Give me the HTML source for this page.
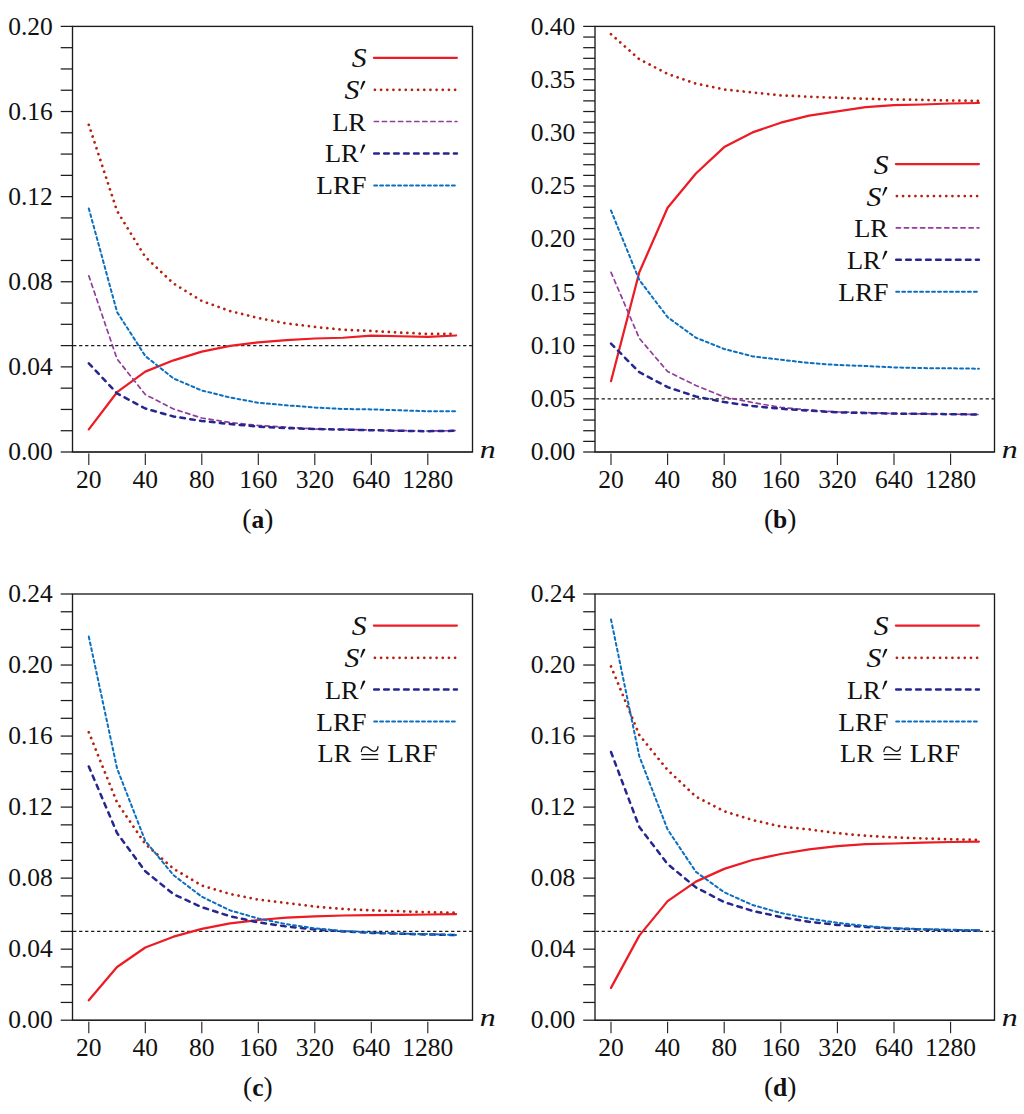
<!DOCTYPE html>
<html><head><meta charset="utf-8"><style>
html,body{margin:0;padding:0;background:#fff;}
body{width:1024px;height:1114px;overflow:hidden;}
svg{display:block;}
text{font-family:"Liberation Serif",serif;fill:#111;}
.rm{font-size:25.5px;}
.it{font-size:25.5px;font-style:italic;}
.bf{font-size:25.5px;font-weight:bold;}
.itS{font-size:27px;font-style:italic;}
</style></head><body>
<svg width="1024" height="1114" viewBox="0 0 1024 1114">
<rect width="1024" height="1114" fill="#fff"/>
<line x1="73.1" y1="345.6" x2="471.9" y2="345.6" stroke="#1a1a1a" stroke-width="1.25" stroke-dasharray="3.3 2.7"/>
<polyline points="88.8,429.4 117.05,392.2 145.3,371.6 173.55,360.3 201.8,351.7 230.05,345.9 258.3,342.3 286.55,340.2 314.8,338.5 343.05,337.75 371.3,335.7 399.55,336.25 427.8,336.8 456.05,335.5" fill="none" stroke="#ec1b24" stroke-width="2.25" stroke-linecap="round" stroke-linejoin="round"/>
<polyline points="88.8,124.8 117.05,211 145.3,257 173.55,283.5 201.8,301 230.05,311 258.3,318 286.55,323.5 314.8,326.9 343.05,329.7 371.3,331 399.55,332.5 427.8,334 456.05,333.8" fill="none" stroke="#b5200f" stroke-width="2.75" stroke-linecap="round" stroke-linejoin="round" stroke-dasharray="0.01 6.16"/>
<polyline points="88.8,275.8 117.05,359 145.3,394.5 173.55,409 201.8,418 230.05,422.5 258.3,425.5 286.55,427.2 314.8,429 343.05,429.4 371.3,430 399.55,430.6 427.8,431 456.05,430.6" fill="none" stroke="#923d9c" stroke-width="1.7" stroke-linecap="round" stroke-linejoin="round" stroke-dasharray="4.2 3.88"/>
<polyline points="88.8,363.3 117.05,393.4 145.3,408.5 173.55,416.5 201.8,421 230.05,424 258.3,426.6 286.55,428.1 314.8,429 343.05,429.6 371.3,430.2 399.55,430.8 427.8,431.2 456.05,430.8" fill="none" stroke="#25268f" stroke-width="2.5" stroke-linecap="round" stroke-linejoin="round" stroke-dasharray="4.6 5.36"/>
<polyline points="88.8,208.4 117.05,312 145.3,356 173.55,378.5 201.8,390.5 230.05,397.5 258.3,402.8 286.55,405.3 314.8,407.5 343.05,409 371.3,409.4 399.55,410.3 427.8,411.25 456.05,411.25" fill="none" stroke="#0b6fbf" stroke-width="2.0" stroke-linecap="round" stroke-linejoin="round" stroke-dasharray="2.9 3.08"/>
<rect x="72.5" y="26.4" width="400" height="425.6" fill="none" stroke="#1c1c1c" stroke-width="1.35"/>
<line x1="72.5" y1="452" x2="472.5" y2="452" stroke="#1c1c1c" stroke-width="1.1"/>
<line x1="60.7" y1="452" x2="72.5" y2="452" stroke="#1c1c1c" stroke-width="1.25"/>
<line x1="60.7" y1="430.72" x2="72.5" y2="430.72" stroke="#1c1c1c" stroke-width="1.25"/>
<line x1="60.7" y1="409.44" x2="72.5" y2="409.44" stroke="#1c1c1c" stroke-width="1.25"/>
<line x1="60.7" y1="388.16" x2="72.5" y2="388.16" stroke="#1c1c1c" stroke-width="1.25"/>
<line x1="60.7" y1="366.88" x2="72.5" y2="366.88" stroke="#1c1c1c" stroke-width="1.25"/>
<line x1="60.7" y1="345.6" x2="72.5" y2="345.6" stroke="#1c1c1c" stroke-width="1.25"/>
<line x1="60.7" y1="324.32" x2="72.5" y2="324.32" stroke="#1c1c1c" stroke-width="1.25"/>
<line x1="60.7" y1="303.04" x2="72.5" y2="303.04" stroke="#1c1c1c" stroke-width="1.25"/>
<line x1="60.7" y1="281.76" x2="72.5" y2="281.76" stroke="#1c1c1c" stroke-width="1.25"/>
<line x1="60.7" y1="260.48" x2="72.5" y2="260.48" stroke="#1c1c1c" stroke-width="1.25"/>
<line x1="60.7" y1="239.2" x2="72.5" y2="239.2" stroke="#1c1c1c" stroke-width="1.25"/>
<line x1="60.7" y1="217.92" x2="72.5" y2="217.92" stroke="#1c1c1c" stroke-width="1.25"/>
<line x1="60.7" y1="196.64" x2="72.5" y2="196.64" stroke="#1c1c1c" stroke-width="1.25"/>
<line x1="60.7" y1="175.36" x2="72.5" y2="175.36" stroke="#1c1c1c" stroke-width="1.25"/>
<line x1="60.7" y1="154.08" x2="72.5" y2="154.08" stroke="#1c1c1c" stroke-width="1.25"/>
<line x1="60.7" y1="132.8" x2="72.5" y2="132.8" stroke="#1c1c1c" stroke-width="1.25"/>
<line x1="60.7" y1="111.52" x2="72.5" y2="111.52" stroke="#1c1c1c" stroke-width="1.25"/>
<line x1="60.7" y1="90.24" x2="72.5" y2="90.24" stroke="#1c1c1c" stroke-width="1.25"/>
<line x1="60.7" y1="68.96" x2="72.5" y2="68.96" stroke="#1c1c1c" stroke-width="1.25"/>
<line x1="60.7" y1="47.68" x2="72.5" y2="47.68" stroke="#1c1c1c" stroke-width="1.25"/>
<line x1="60.7" y1="26.4" x2="72.5" y2="26.4" stroke="#1c1c1c" stroke-width="1.25"/>
<text x="52.8" y="460.2" text-anchor="end" class="rm">0.00</text>
<text x="52.8" y="375.08" text-anchor="end" class="rm">0.04</text>
<text x="52.8" y="289.96" text-anchor="end" class="rm">0.08</text>
<text x="52.8" y="204.84" text-anchor="end" class="rm">0.12</text>
<text x="52.8" y="119.72" text-anchor="end" class="rm">0.16</text>
<text x="52.8" y="34.6" text-anchor="end" class="rm">0.20</text>
<line x1="88.8" y1="453.5" x2="88.8" y2="465" stroke="#1c1c1c" stroke-width="1.1"/>
<text x="88.8" y="488" text-anchor="middle" class="rm">20</text>
<line x1="145.3" y1="453.5" x2="145.3" y2="465" stroke="#1c1c1c" stroke-width="1.1"/>
<text x="145.3" y="488" text-anchor="middle" class="rm">40</text>
<line x1="201.8" y1="453.5" x2="201.8" y2="465" stroke="#1c1c1c" stroke-width="1.1"/>
<text x="201.8" y="488" text-anchor="middle" class="rm">80</text>
<line x1="258.3" y1="453.5" x2="258.3" y2="465" stroke="#1c1c1c" stroke-width="1.1"/>
<text x="258.3" y="488" text-anchor="middle" class="rm">160</text>
<line x1="314.8" y1="453.5" x2="314.8" y2="465" stroke="#1c1c1c" stroke-width="1.1"/>
<text x="314.8" y="488" text-anchor="middle" class="rm">320</text>
<line x1="371.3" y1="453.5" x2="371.3" y2="465" stroke="#1c1c1c" stroke-width="1.1"/>
<text x="371.3" y="488" text-anchor="middle" class="rm">640</text>
<line x1="427.8" y1="453.5" x2="427.8" y2="465" stroke="#1c1c1c" stroke-width="1.1"/>
<text x="427.8" y="488" text-anchor="middle" class="rm">1280</text>
<text transform="translate(479.7 457.6) scale(1.25 1)" class="it">n</text>
<text x="242.37" y="527.8" class="rm" style="font-size:27.5px">(<tspan class="bf" style="font-size:25.5px">a</tspan>)</text>
<line x1="373.9" y1="57.75" x2="456.9" y2="57.75" stroke="#ec1b24" stroke-width="2.25" stroke-linecap="round"/>
<text transform="translate(366.5 67.35) scale(1.1 1)" text-anchor="end" class="itS">S</text>
<line x1="374.9" y1="89.8" x2="456.9" y2="89.8" stroke="#b5200f" stroke-width="2.75" stroke-linecap="round" stroke-dasharray="0.01 6.16"/>
<text transform="translate(359.3 99.4) scale(1.1 1)" text-anchor="end" class="itS">S</text><polygon points="362.7,81.5 363.5,80.9 364.6,80.8 365.3,81.3 365.2,82 361.4,89.4 360.6,89.6 360.3,89.1" fill="#111"/>
<line x1="374.3" y1="121.5" x2="456.9" y2="121.5" stroke="#923d9c" stroke-width="1.7" stroke-linecap="round" stroke-dasharray="4.2 3.88"/>
<text transform="translate(366 130.5) scale(1.038 1)" text-anchor="end" class="rm">LR</text>
<line x1="374.2" y1="153.4" x2="456.9" y2="153.4" stroke="#25268f" stroke-width="2.5" stroke-linecap="round" stroke-dasharray="4.6 5.36"/>
<text transform="translate(358.7 162.4) scale(1.038 1)" text-anchor="end" class="rm">LR</text><polygon points="362.7,145.1 363.5,144.5 364.6,144.4 365.3,144.9 365.2,145.6 361.4,153 360.6,153.2 360.3,152.7" fill="#111"/>
<line x1="374.2" y1="185.4" x2="456.9" y2="185.4" stroke="#0b6fbf" stroke-width="2.0" stroke-linecap="round" stroke-dasharray="2.9 3.08"/>
<text transform="translate(366.5 194.4) scale(1.075 1)" text-anchor="end" class="rm">LRF</text>
<line x1="595.6" y1="398.8" x2="993.9" y2="398.8" stroke="#1a1a1a" stroke-width="1.25" stroke-dasharray="3.3 2.7"/>
<polyline points="611,381.2 639.3,272.3 667.6,207.7 695.9,173.5 724.2,147.1 752.5,132.4 780.8,122.7 809.1,115.6 837.4,111.4 865.7,107.2 894,105.1 922.3,104.5 950.6,103.5 978.9,103" fill="none" stroke="#ec1b24" stroke-width="2.25" stroke-linecap="round" stroke-linejoin="round"/>
<polyline points="611,34.2 639.3,59.2 667.6,73.9 695.9,83.6 724.2,89.5 752.5,92.4 780.8,95.3 809.1,96.7 837.4,97.8 865.7,98.8 894,99.5 922.3,99.9 950.6,100.5 978.9,100.9" fill="none" stroke="#b5200f" stroke-width="2.75" stroke-linecap="round" stroke-linejoin="round" stroke-dasharray="0.01 6.16"/>
<polyline points="611,272.3 639.3,338.3 667.6,371.5 695.9,385.5 724.2,397 752.5,402.5 780.8,407.4 809.1,410 837.4,411.9 865.7,412.6 894,413.6 922.3,413.8 950.6,414.2 978.9,414.5" fill="none" stroke="#923d9c" stroke-width="1.7" stroke-linecap="round" stroke-linejoin="round" stroke-dasharray="4.2 3.88"/>
<polyline points="611,343.6 639.3,372.2 667.6,387.1 695.9,396.5 724.2,402.1 752.5,406 780.8,408.75 809.1,410.7 837.4,412.3 865.7,413 894,413.6 922.3,413.8 950.6,414.2 978.9,414.5" fill="none" stroke="#25268f" stroke-width="2.5" stroke-linecap="round" stroke-linejoin="round" stroke-dasharray="4.6 5.36"/>
<polyline points="611,210.5 639.3,280 667.6,317.2 695.9,337.7 724.2,349 752.5,356.4 780.8,359.7 809.1,363 837.4,365 865.7,366 894,367.4 922.3,368.1 950.6,368.3 978.9,368.7" fill="none" stroke="#0b6fbf" stroke-width="2.0" stroke-linecap="round" stroke-linejoin="round" stroke-dasharray="2.9 3.08"/>
<rect x="595" y="26.4" width="399.5" height="425.6" fill="none" stroke="#1c1c1c" stroke-width="1.35"/>
<line x1="595" y1="452" x2="994.5" y2="452" stroke="#1c1c1c" stroke-width="1.1"/>
<line x1="583.2" y1="452" x2="595" y2="452" stroke="#1c1c1c" stroke-width="1.25"/>
<line x1="583.2" y1="441.36" x2="595" y2="441.36" stroke="#1c1c1c" stroke-width="1.25"/>
<line x1="583.2" y1="430.72" x2="595" y2="430.72" stroke="#1c1c1c" stroke-width="1.25"/>
<line x1="583.2" y1="420.08" x2="595" y2="420.08" stroke="#1c1c1c" stroke-width="1.25"/>
<line x1="583.2" y1="409.44" x2="595" y2="409.44" stroke="#1c1c1c" stroke-width="1.25"/>
<line x1="583.2" y1="398.8" x2="595" y2="398.8" stroke="#1c1c1c" stroke-width="1.25"/>
<line x1="583.2" y1="388.16" x2="595" y2="388.16" stroke="#1c1c1c" stroke-width="1.25"/>
<line x1="583.2" y1="377.52" x2="595" y2="377.52" stroke="#1c1c1c" stroke-width="1.25"/>
<line x1="583.2" y1="366.88" x2="595" y2="366.88" stroke="#1c1c1c" stroke-width="1.25"/>
<line x1="583.2" y1="356.24" x2="595" y2="356.24" stroke="#1c1c1c" stroke-width="1.25"/>
<line x1="583.2" y1="345.6" x2="595" y2="345.6" stroke="#1c1c1c" stroke-width="1.25"/>
<line x1="583.2" y1="334.96" x2="595" y2="334.96" stroke="#1c1c1c" stroke-width="1.25"/>
<line x1="583.2" y1="324.32" x2="595" y2="324.32" stroke="#1c1c1c" stroke-width="1.25"/>
<line x1="583.2" y1="313.68" x2="595" y2="313.68" stroke="#1c1c1c" stroke-width="1.25"/>
<line x1="583.2" y1="303.04" x2="595" y2="303.04" stroke="#1c1c1c" stroke-width="1.25"/>
<line x1="583.2" y1="292.4" x2="595" y2="292.4" stroke="#1c1c1c" stroke-width="1.25"/>
<line x1="583.2" y1="281.76" x2="595" y2="281.76" stroke="#1c1c1c" stroke-width="1.25"/>
<line x1="583.2" y1="271.12" x2="595" y2="271.12" stroke="#1c1c1c" stroke-width="1.25"/>
<line x1="583.2" y1="260.48" x2="595" y2="260.48" stroke="#1c1c1c" stroke-width="1.25"/>
<line x1="583.2" y1="249.84" x2="595" y2="249.84" stroke="#1c1c1c" stroke-width="1.25"/>
<line x1="583.2" y1="239.2" x2="595" y2="239.2" stroke="#1c1c1c" stroke-width="1.25"/>
<line x1="583.2" y1="228.56" x2="595" y2="228.56" stroke="#1c1c1c" stroke-width="1.25"/>
<line x1="583.2" y1="217.92" x2="595" y2="217.92" stroke="#1c1c1c" stroke-width="1.25"/>
<line x1="583.2" y1="207.28" x2="595" y2="207.28" stroke="#1c1c1c" stroke-width="1.25"/>
<line x1="583.2" y1="196.64" x2="595" y2="196.64" stroke="#1c1c1c" stroke-width="1.25"/>
<line x1="583.2" y1="186" x2="595" y2="186" stroke="#1c1c1c" stroke-width="1.25"/>
<line x1="583.2" y1="175.36" x2="595" y2="175.36" stroke="#1c1c1c" stroke-width="1.25"/>
<line x1="583.2" y1="164.72" x2="595" y2="164.72" stroke="#1c1c1c" stroke-width="1.25"/>
<line x1="583.2" y1="154.08" x2="595" y2="154.08" stroke="#1c1c1c" stroke-width="1.25"/>
<line x1="583.2" y1="143.44" x2="595" y2="143.44" stroke="#1c1c1c" stroke-width="1.25"/>
<line x1="583.2" y1="132.8" x2="595" y2="132.8" stroke="#1c1c1c" stroke-width="1.25"/>
<line x1="583.2" y1="122.16" x2="595" y2="122.16" stroke="#1c1c1c" stroke-width="1.25"/>
<line x1="583.2" y1="111.52" x2="595" y2="111.52" stroke="#1c1c1c" stroke-width="1.25"/>
<line x1="583.2" y1="100.88" x2="595" y2="100.88" stroke="#1c1c1c" stroke-width="1.25"/>
<line x1="583.2" y1="90.24" x2="595" y2="90.24" stroke="#1c1c1c" stroke-width="1.25"/>
<line x1="583.2" y1="79.6" x2="595" y2="79.6" stroke="#1c1c1c" stroke-width="1.25"/>
<line x1="583.2" y1="68.96" x2="595" y2="68.96" stroke="#1c1c1c" stroke-width="1.25"/>
<line x1="583.2" y1="58.32" x2="595" y2="58.32" stroke="#1c1c1c" stroke-width="1.25"/>
<line x1="583.2" y1="47.68" x2="595" y2="47.68" stroke="#1c1c1c" stroke-width="1.25"/>
<line x1="583.2" y1="37.04" x2="595" y2="37.04" stroke="#1c1c1c" stroke-width="1.25"/>
<line x1="583.2" y1="26.4" x2="595" y2="26.4" stroke="#1c1c1c" stroke-width="1.25"/>
<text x="575.3" y="460.2" text-anchor="end" class="rm">0.00</text>
<text x="575.3" y="407" text-anchor="end" class="rm">0.05</text>
<text x="575.3" y="353.8" text-anchor="end" class="rm">0.10</text>
<text x="575.3" y="300.6" text-anchor="end" class="rm">0.15</text>
<text x="575.3" y="247.4" text-anchor="end" class="rm">0.20</text>
<text x="575.3" y="194.2" text-anchor="end" class="rm">0.25</text>
<text x="575.3" y="141" text-anchor="end" class="rm">0.30</text>
<text x="575.3" y="87.8" text-anchor="end" class="rm">0.35</text>
<text x="575.3" y="34.6" text-anchor="end" class="rm">0.40</text>
<line x1="611" y1="453.5" x2="611" y2="465" stroke="#1c1c1c" stroke-width="1.1"/>
<text x="611" y="488" text-anchor="middle" class="rm">20</text>
<line x1="667.6" y1="453.5" x2="667.6" y2="465" stroke="#1c1c1c" stroke-width="1.1"/>
<text x="667.6" y="488" text-anchor="middle" class="rm">40</text>
<line x1="724.2" y1="453.5" x2="724.2" y2="465" stroke="#1c1c1c" stroke-width="1.1"/>
<text x="724.2" y="488" text-anchor="middle" class="rm">80</text>
<line x1="780.8" y1="453.5" x2="780.8" y2="465" stroke="#1c1c1c" stroke-width="1.1"/>
<text x="780.8" y="488" text-anchor="middle" class="rm">160</text>
<line x1="837.4" y1="453.5" x2="837.4" y2="465" stroke="#1c1c1c" stroke-width="1.1"/>
<text x="837.4" y="488" text-anchor="middle" class="rm">320</text>
<line x1="894" y1="453.5" x2="894" y2="465" stroke="#1c1c1c" stroke-width="1.1"/>
<text x="894" y="488" text-anchor="middle" class="rm">640</text>
<line x1="950.6" y1="453.5" x2="950.6" y2="465" stroke="#1c1c1c" stroke-width="1.1"/>
<text x="950.6" y="488" text-anchor="middle" class="rm">1280</text>
<text transform="translate(1001.7 457.6) scale(1.25 1)" class="it">n</text>
<text x="763.9" y="527.8" class="rm" style="font-size:27.5px">(<tspan class="bf" style="font-size:25.5px">b</tspan>)</text>
<line x1="895.9" y1="164" x2="978.9" y2="164" stroke="#ec1b24" stroke-width="2.25" stroke-linecap="round"/>
<text transform="translate(888.5 173.6) scale(1.1 1)" text-anchor="end" class="itS">S</text>
<line x1="896.9" y1="196" x2="978.9" y2="196" stroke="#b5200f" stroke-width="2.75" stroke-linecap="round" stroke-dasharray="0.01 6.16"/>
<text transform="translate(881.3 205.6) scale(1.1 1)" text-anchor="end" class="itS">S</text><polygon points="884.7,187.7 885.5,187.1 886.6,187 887.3,187.5 887.2,188.2 883.4,195.6 882.6,195.8 882.3,195.3" fill="#111"/>
<line x1="896.3" y1="227.8" x2="978.9" y2="227.8" stroke="#923d9c" stroke-width="1.7" stroke-linecap="round" stroke-dasharray="4.2 3.88"/>
<text transform="translate(888 236.8) scale(1.038 1)" text-anchor="end" class="rm">LR</text>
<line x1="896.2" y1="259.7" x2="978.9" y2="259.7" stroke="#25268f" stroke-width="2.5" stroke-linecap="round" stroke-dasharray="4.6 5.36"/>
<text transform="translate(880.7 268.7) scale(1.038 1)" text-anchor="end" class="rm">LR</text><polygon points="884.7,251.4 885.5,250.8 886.6,250.7 887.3,251.2 887.2,251.9 883.4,259.3 882.6,259.5 882.3,259" fill="#111"/>
<line x1="896.2" y1="291.7" x2="978.9" y2="291.7" stroke="#0b6fbf" stroke-width="2.0" stroke-linecap="round" stroke-dasharray="2.9 3.08"/>
<text transform="translate(888.5 300.7) scale(1.075 1)" text-anchor="end" class="rm">LRF</text>
<line x1="73.1" y1="931.41" x2="471.9" y2="931.41" stroke="#1a1a1a" stroke-width="1.25" stroke-dasharray="3.3 2.7"/>
<polyline points="88.8,1000.3 117.05,967 145.3,947.5 173.55,936.7 201.8,928.9 230.05,923.4 258.3,920 286.55,917.6 314.8,916.3 343.05,915.5 371.3,915.1 399.55,914.9 427.8,914.5 456.05,914.2" fill="none" stroke="#ec1b24" stroke-width="2.25" stroke-linecap="round" stroke-linejoin="round"/>
<polyline points="88.8,732.3 117.05,802.5 145.3,844 173.55,868.8 201.8,885.5 230.05,894 258.3,899.6 286.55,903 314.8,906.6 343.05,909 371.3,910.3 399.55,911.3 427.8,912.2 456.05,912.8" fill="none" stroke="#b5200f" stroke-width="2.75" stroke-linecap="round" stroke-linejoin="round" stroke-dasharray="0.01 6.16"/>
<polyline points="88.8,766.5 117.05,833 145.3,871.3 173.55,894.2 201.8,907.2 230.05,916.2 258.3,922.4 286.55,926.5 314.8,929.4 343.05,931.4 371.3,932.9 399.55,933.7 427.8,934.5 456.05,935" fill="none" stroke="#25268f" stroke-width="2.5" stroke-linecap="round" stroke-linejoin="round" stroke-dasharray="4.6 5.36"/>
<polyline points="88.8,636.6 117.05,768.4 145.3,841 173.55,875.2 201.8,896.7 230.05,910.4 258.3,918.5 286.55,924.2 314.8,928.3 343.05,931 371.3,932.5 399.55,933.5 427.8,934.1 456.05,935" fill="none" stroke="#0b6fbf" stroke-width="2.0" stroke-linecap="round" stroke-linejoin="round" stroke-dasharray="2.9 3.08"/>
<rect x="72.5" y="594" width="400" height="426.2" fill="none" stroke="#1c1c1c" stroke-width="1.35"/>
<line x1="72.5" y1="1020.2" x2="472.5" y2="1020.2" stroke="#1c1c1c" stroke-width="1.1"/>
<line x1="60.7" y1="1020.2" x2="72.5" y2="1020.2" stroke="#1c1c1c" stroke-width="1.25"/>
<line x1="60.7" y1="1002.44" x2="72.5" y2="1002.44" stroke="#1c1c1c" stroke-width="1.25"/>
<line x1="60.7" y1="984.68" x2="72.5" y2="984.68" stroke="#1c1c1c" stroke-width="1.25"/>
<line x1="60.7" y1="966.93" x2="72.5" y2="966.93" stroke="#1c1c1c" stroke-width="1.25"/>
<line x1="60.7" y1="949.17" x2="72.5" y2="949.17" stroke="#1c1c1c" stroke-width="1.25"/>
<line x1="60.7" y1="931.41" x2="72.5" y2="931.41" stroke="#1c1c1c" stroke-width="1.25"/>
<line x1="60.7" y1="913.65" x2="72.5" y2="913.65" stroke="#1c1c1c" stroke-width="1.25"/>
<line x1="60.7" y1="895.89" x2="72.5" y2="895.89" stroke="#1c1c1c" stroke-width="1.25"/>
<line x1="60.7" y1="878.13" x2="72.5" y2="878.13" stroke="#1c1c1c" stroke-width="1.25"/>
<line x1="60.7" y1="860.38" x2="72.5" y2="860.38" stroke="#1c1c1c" stroke-width="1.25"/>
<line x1="60.7" y1="842.62" x2="72.5" y2="842.62" stroke="#1c1c1c" stroke-width="1.25"/>
<line x1="60.7" y1="824.86" x2="72.5" y2="824.86" stroke="#1c1c1c" stroke-width="1.25"/>
<line x1="60.7" y1="807.1" x2="72.5" y2="807.1" stroke="#1c1c1c" stroke-width="1.25"/>
<line x1="60.7" y1="789.34" x2="72.5" y2="789.34" stroke="#1c1c1c" stroke-width="1.25"/>
<line x1="60.7" y1="771.58" x2="72.5" y2="771.58" stroke="#1c1c1c" stroke-width="1.25"/>
<line x1="60.7" y1="753.83" x2="72.5" y2="753.83" stroke="#1c1c1c" stroke-width="1.25"/>
<line x1="60.7" y1="736.07" x2="72.5" y2="736.07" stroke="#1c1c1c" stroke-width="1.25"/>
<line x1="60.7" y1="718.31" x2="72.5" y2="718.31" stroke="#1c1c1c" stroke-width="1.25"/>
<line x1="60.7" y1="700.55" x2="72.5" y2="700.55" stroke="#1c1c1c" stroke-width="1.25"/>
<line x1="60.7" y1="682.79" x2="72.5" y2="682.79" stroke="#1c1c1c" stroke-width="1.25"/>
<line x1="60.7" y1="665.03" x2="72.5" y2="665.03" stroke="#1c1c1c" stroke-width="1.25"/>
<line x1="60.7" y1="647.27" x2="72.5" y2="647.27" stroke="#1c1c1c" stroke-width="1.25"/>
<line x1="60.7" y1="629.52" x2="72.5" y2="629.52" stroke="#1c1c1c" stroke-width="1.25"/>
<line x1="60.7" y1="611.76" x2="72.5" y2="611.76" stroke="#1c1c1c" stroke-width="1.25"/>
<line x1="60.7" y1="594" x2="72.5" y2="594" stroke="#1c1c1c" stroke-width="1.25"/>
<text x="52.8" y="1028.4" text-anchor="end" class="rm">0.00</text>
<text x="52.8" y="957.37" text-anchor="end" class="rm">0.04</text>
<text x="52.8" y="886.33" text-anchor="end" class="rm">0.08</text>
<text x="52.8" y="815.3" text-anchor="end" class="rm">0.12</text>
<text x="52.8" y="744.27" text-anchor="end" class="rm">0.16</text>
<text x="52.8" y="673.23" text-anchor="end" class="rm">0.20</text>
<text x="52.8" y="602.2" text-anchor="end" class="rm">0.24</text>
<line x1="88.8" y1="1021.7" x2="88.8" y2="1033.2" stroke="#1c1c1c" stroke-width="1.1"/>
<text x="88.8" y="1056.2" text-anchor="middle" class="rm">20</text>
<line x1="145.3" y1="1021.7" x2="145.3" y2="1033.2" stroke="#1c1c1c" stroke-width="1.1"/>
<text x="145.3" y="1056.2" text-anchor="middle" class="rm">40</text>
<line x1="201.8" y1="1021.7" x2="201.8" y2="1033.2" stroke="#1c1c1c" stroke-width="1.1"/>
<text x="201.8" y="1056.2" text-anchor="middle" class="rm">80</text>
<line x1="258.3" y1="1021.7" x2="258.3" y2="1033.2" stroke="#1c1c1c" stroke-width="1.1"/>
<text x="258.3" y="1056.2" text-anchor="middle" class="rm">160</text>
<line x1="314.8" y1="1021.7" x2="314.8" y2="1033.2" stroke="#1c1c1c" stroke-width="1.1"/>
<text x="314.8" y="1056.2" text-anchor="middle" class="rm">320</text>
<line x1="371.3" y1="1021.7" x2="371.3" y2="1033.2" stroke="#1c1c1c" stroke-width="1.1"/>
<text x="371.3" y="1056.2" text-anchor="middle" class="rm">640</text>
<line x1="427.8" y1="1021.7" x2="427.8" y2="1033.2" stroke="#1c1c1c" stroke-width="1.1"/>
<text x="427.8" y="1056.2" text-anchor="middle" class="rm">1280</text>
<text transform="translate(479.7 1025.8) scale(1.25 1)" class="it">n</text>
<text x="243.08" y="1096" class="rm" style="font-size:27.5px">(<tspan class="bf" style="font-size:25.5px">c</tspan>)</text>
<line x1="373.9" y1="625.6" x2="456.9" y2="625.6" stroke="#ec1b24" stroke-width="2.25" stroke-linecap="round"/>
<text transform="translate(366.5 635.2) scale(1.1 1)" text-anchor="end" class="itS">S</text>
<line x1="374.9" y1="657.8" x2="456.9" y2="657.8" stroke="#b5200f" stroke-width="2.75" stroke-linecap="round" stroke-dasharray="0.01 6.16"/>
<text transform="translate(359.3 667.4) scale(1.1 1)" text-anchor="end" class="itS">S</text><polygon points="362.7,649.5 363.5,648.9 364.6,648.8 365.3,649.3 365.2,650 361.4,657.4 360.6,657.6 360.3,657.1" fill="#111"/>
<line x1="374.2" y1="689.6" x2="456.9" y2="689.6" stroke="#25268f" stroke-width="2.5" stroke-linecap="round" stroke-dasharray="4.6 5.36"/>
<text transform="translate(358.7 698.6) scale(1.038 1)" text-anchor="end" class="rm">LR</text><polygon points="362.7,681.3 363.5,680.7 364.6,680.6 365.3,681.1 365.2,681.8 361.4,689.2 360.6,689.4 360.3,688.9" fill="#111"/>
<line x1="374.2" y1="721.6" x2="456.9" y2="721.6" stroke="#0b6fbf" stroke-width="2.0" stroke-linecap="round" stroke-dasharray="2.9 3.08"/>
<text transform="translate(366.5 730.6) scale(1.075 1)" text-anchor="end" class="rm">LRF</text>
<text transform="translate(317.5 761.9) scale(1.038 1)" text-anchor="start" class="rm">LR</text>
<path d="M361.4 751.6 C361.9 746 366.3 745.5 369.7 749 S377.5 752.2 378 746.6" fill="none" stroke="#111" stroke-width="1.25" stroke-linecap="round"/>
<line x1="361.8" y1="754.6" x2="377.7" y2="754.6" stroke="#111" stroke-width="1.3" stroke-linecap="round"/>
<line x1="361.8" y1="759.4" x2="377.7" y2="759.4" stroke="#111" stroke-width="1.3" stroke-linecap="round"/>
<text transform="translate(387.3 761.9) scale(1.075 1)" text-anchor="start" class="rm">LRF</text>
<line x1="595.6" y1="931.41" x2="993.9" y2="931.41" stroke="#1a1a1a" stroke-width="1.25" stroke-dasharray="3.3 2.7"/>
<polyline points="611,987.9 639.3,935.6 667.6,901.1 695.9,881.6 724.2,868.9 752.5,860 780.8,854 809.1,849.3 837.4,846.2 865.7,844.1 894,843.5 922.3,842.6 950.6,842 978.9,841.6" fill="none" stroke="#ec1b24" stroke-width="2.25" stroke-linecap="round" stroke-linejoin="round"/>
<polyline points="611,666.4 639.3,735 667.6,770 695.9,796.6 724.2,811.25 752.5,820 780.8,826.5 809.1,829.4 837.4,833.2 865.7,835.7 894,837.4 922.3,838.4 950.6,839.3 978.9,839.9" fill="none" stroke="#b5200f" stroke-width="2.75" stroke-linecap="round" stroke-linejoin="round" stroke-dasharray="0.01 6.16"/>
<polyline points="611,752 639.3,827 667.6,864 695.9,887.4 724.2,902.1 752.5,910.9 780.8,917 809.1,921.8 837.4,924.9 865.7,927 894,928.5 922.3,929.5 950.6,930.2 978.9,930.6" fill="none" stroke="#25268f" stroke-width="2.5" stroke-linecap="round" stroke-linejoin="round" stroke-dasharray="4.6 5.36"/>
<polyline points="611,619.5 639.3,756.25 667.6,829.5 695.9,871.8 724.2,892.3 752.5,905 780.8,913 809.1,918.6 837.4,922.8 865.7,926 894,928.1 922.3,929.1 950.6,929.75 978.9,930.2" fill="none" stroke="#0b6fbf" stroke-width="2.0" stroke-linecap="round" stroke-linejoin="round" stroke-dasharray="2.9 3.08"/>
<rect x="595" y="594" width="399.5" height="426.2" fill="none" stroke="#1c1c1c" stroke-width="1.35"/>
<line x1="595" y1="1020.2" x2="994.5" y2="1020.2" stroke="#1c1c1c" stroke-width="1.1"/>
<line x1="583.2" y1="1020.2" x2="595" y2="1020.2" stroke="#1c1c1c" stroke-width="1.25"/>
<line x1="583.2" y1="1002.44" x2="595" y2="1002.44" stroke="#1c1c1c" stroke-width="1.25"/>
<line x1="583.2" y1="984.68" x2="595" y2="984.68" stroke="#1c1c1c" stroke-width="1.25"/>
<line x1="583.2" y1="966.93" x2="595" y2="966.93" stroke="#1c1c1c" stroke-width="1.25"/>
<line x1="583.2" y1="949.17" x2="595" y2="949.17" stroke="#1c1c1c" stroke-width="1.25"/>
<line x1="583.2" y1="931.41" x2="595" y2="931.41" stroke="#1c1c1c" stroke-width="1.25"/>
<line x1="583.2" y1="913.65" x2="595" y2="913.65" stroke="#1c1c1c" stroke-width="1.25"/>
<line x1="583.2" y1="895.89" x2="595" y2="895.89" stroke="#1c1c1c" stroke-width="1.25"/>
<line x1="583.2" y1="878.13" x2="595" y2="878.13" stroke="#1c1c1c" stroke-width="1.25"/>
<line x1="583.2" y1="860.38" x2="595" y2="860.38" stroke="#1c1c1c" stroke-width="1.25"/>
<line x1="583.2" y1="842.62" x2="595" y2="842.62" stroke="#1c1c1c" stroke-width="1.25"/>
<line x1="583.2" y1="824.86" x2="595" y2="824.86" stroke="#1c1c1c" stroke-width="1.25"/>
<line x1="583.2" y1="807.1" x2="595" y2="807.1" stroke="#1c1c1c" stroke-width="1.25"/>
<line x1="583.2" y1="789.34" x2="595" y2="789.34" stroke="#1c1c1c" stroke-width="1.25"/>
<line x1="583.2" y1="771.58" x2="595" y2="771.58" stroke="#1c1c1c" stroke-width="1.25"/>
<line x1="583.2" y1="753.83" x2="595" y2="753.83" stroke="#1c1c1c" stroke-width="1.25"/>
<line x1="583.2" y1="736.07" x2="595" y2="736.07" stroke="#1c1c1c" stroke-width="1.25"/>
<line x1="583.2" y1="718.31" x2="595" y2="718.31" stroke="#1c1c1c" stroke-width="1.25"/>
<line x1="583.2" y1="700.55" x2="595" y2="700.55" stroke="#1c1c1c" stroke-width="1.25"/>
<line x1="583.2" y1="682.79" x2="595" y2="682.79" stroke="#1c1c1c" stroke-width="1.25"/>
<line x1="583.2" y1="665.03" x2="595" y2="665.03" stroke="#1c1c1c" stroke-width="1.25"/>
<line x1="583.2" y1="647.27" x2="595" y2="647.27" stroke="#1c1c1c" stroke-width="1.25"/>
<line x1="583.2" y1="629.52" x2="595" y2="629.52" stroke="#1c1c1c" stroke-width="1.25"/>
<line x1="583.2" y1="611.76" x2="595" y2="611.76" stroke="#1c1c1c" stroke-width="1.25"/>
<line x1="583.2" y1="594" x2="595" y2="594" stroke="#1c1c1c" stroke-width="1.25"/>
<text x="575.3" y="1028.4" text-anchor="end" class="rm">0.00</text>
<text x="575.3" y="957.37" text-anchor="end" class="rm">0.04</text>
<text x="575.3" y="886.33" text-anchor="end" class="rm">0.08</text>
<text x="575.3" y="815.3" text-anchor="end" class="rm">0.12</text>
<text x="575.3" y="744.27" text-anchor="end" class="rm">0.16</text>
<text x="575.3" y="673.23" text-anchor="end" class="rm">0.20</text>
<text x="575.3" y="602.2" text-anchor="end" class="rm">0.24</text>
<line x1="611" y1="1021.7" x2="611" y2="1033.2" stroke="#1c1c1c" stroke-width="1.1"/>
<text x="611" y="1056.2" text-anchor="middle" class="rm">20</text>
<line x1="667.6" y1="1021.7" x2="667.6" y2="1033.2" stroke="#1c1c1c" stroke-width="1.1"/>
<text x="667.6" y="1056.2" text-anchor="middle" class="rm">40</text>
<line x1="724.2" y1="1021.7" x2="724.2" y2="1033.2" stroke="#1c1c1c" stroke-width="1.1"/>
<text x="724.2" y="1056.2" text-anchor="middle" class="rm">80</text>
<line x1="780.8" y1="1021.7" x2="780.8" y2="1033.2" stroke="#1c1c1c" stroke-width="1.1"/>
<text x="780.8" y="1056.2" text-anchor="middle" class="rm">160</text>
<line x1="837.4" y1="1021.7" x2="837.4" y2="1033.2" stroke="#1c1c1c" stroke-width="1.1"/>
<text x="837.4" y="1056.2" text-anchor="middle" class="rm">320</text>
<line x1="894" y1="1021.7" x2="894" y2="1033.2" stroke="#1c1c1c" stroke-width="1.1"/>
<text x="894" y="1056.2" text-anchor="middle" class="rm">640</text>
<line x1="950.6" y1="1021.7" x2="950.6" y2="1033.2" stroke="#1c1c1c" stroke-width="1.1"/>
<text x="950.6" y="1056.2" text-anchor="middle" class="rm">1280</text>
<text transform="translate(1001.7 1025.8) scale(1.25 1)" class="it">n</text>
<text x="763.9" y="1096" class="rm" style="font-size:27.5px">(<tspan class="bf" style="font-size:25.5px">d</tspan>)</text>
<line x1="895.9" y1="625.6" x2="978.9" y2="625.6" stroke="#ec1b24" stroke-width="2.25" stroke-linecap="round"/>
<text transform="translate(888.5 635.2) scale(1.1 1)" text-anchor="end" class="itS">S</text>
<line x1="896.9" y1="657.8" x2="978.9" y2="657.8" stroke="#b5200f" stroke-width="2.75" stroke-linecap="round" stroke-dasharray="0.01 6.16"/>
<text transform="translate(881.3 667.4) scale(1.1 1)" text-anchor="end" class="itS">S</text><polygon points="884.7,649.5 885.5,648.9 886.6,648.8 887.3,649.3 887.2,650 883.4,657.4 882.6,657.6 882.3,657.1" fill="#111"/>
<line x1="896.2" y1="689.6" x2="978.9" y2="689.6" stroke="#25268f" stroke-width="2.5" stroke-linecap="round" stroke-dasharray="4.6 5.36"/>
<text transform="translate(880.7 698.6) scale(1.038 1)" text-anchor="end" class="rm">LR</text><polygon points="884.7,681.3 885.5,680.7 886.6,680.6 887.3,681.1 887.2,681.8 883.4,689.2 882.6,689.4 882.3,688.9" fill="#111"/>
<line x1="896.2" y1="721.6" x2="978.9" y2="721.6" stroke="#0b6fbf" stroke-width="2.0" stroke-linecap="round" stroke-dasharray="2.9 3.08"/>
<text transform="translate(888.5 730.6) scale(1.075 1)" text-anchor="end" class="rm">LRF</text>
<text transform="translate(840 761.9) scale(1.038 1)" text-anchor="start" class="rm">LR</text>
<path d="M883.9 751.6 C884.4 746 888.8 745.5 892.2 749 S900 752.2 900.5 746.6" fill="none" stroke="#111" stroke-width="1.25" stroke-linecap="round"/>
<line x1="884.3" y1="754.6" x2="900.2" y2="754.6" stroke="#111" stroke-width="1.3" stroke-linecap="round"/>
<line x1="884.3" y1="759.4" x2="900.2" y2="759.4" stroke="#111" stroke-width="1.3" stroke-linecap="round"/>
<text transform="translate(909.8 761.9) scale(1.075 1)" text-anchor="start" class="rm">LRF</text>
</svg>
</body></html>
